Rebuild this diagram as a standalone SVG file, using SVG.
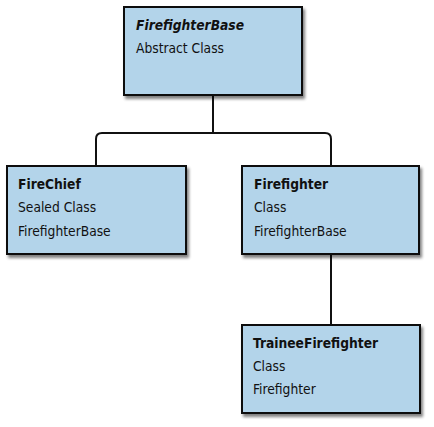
<svg xmlns="http://www.w3.org/2000/svg" width="434" height="427" viewBox="0 0 434 427">
<style>
.box{fill:#b3d4ea;stroke:#111;stroke-width:2;filter:url(#sh)}
.t{font-family:"DejaVu Sans Condensed","Liberation Sans",Arial,sans-serif;font-size:13.7px;fill:#111}
.b{font-weight:bold}
.bi{font-weight:bold;font-style:italic}
.c{fill:none;stroke:#111;stroke-width:2}
</style>
<defs>
<filter id="sh" x="-10%" y="-10%" width="130%" height="140%">
<feGaussianBlur in="SourceAlpha" stdDeviation="1.5"/>
<feOffset dx="2" dy="3" result="o"/>
<feComponentTransfer><feFuncA type="linear" slope="0.5"/></feComponentTransfer>
<feMerge><feMergeNode/><feMergeNode in="SourceGraphic"/></feMerge>
</filter>
</defs>
<g id="connectors">
<path class="c" d="M213 95 V133 M96 166 V139 Q96 133 102 133 H325 Q331 133 331 139 V166"/>
<path class="c" d="M331 254 V325"/>
</g>
<g id="FirefighterBase">
<rect class="box" x="124" y="7" width="178" height="88"/>
<text class="t bi" x="136" y="30">FirefighterBase</text>
<text class="t" x="136" y="53">Abstract Class</text>
</g>
<g id="FireChief">
<rect class="box" x="7" y="166" width="179" height="88"/>
<text class="t b" x="18" y="189">FireChief</text>
<text class="t" x="18" y="212">Sealed Class</text>
<text class="t" x="18" y="236">FirefighterBase</text>
</g>
<g id="Firefighter">
<rect class="box" x="242" y="166" width="177" height="88"/>
<text class="t b" x="254" y="189">Firefighter</text>
<text class="t" x="254" y="212">Class</text>
<text class="t" x="254" y="236">FirefighterBase</text>
</g>
<g id="TraineeFirefighter">
<rect class="box" x="242" y="325" width="178" height="88"/>
<text class="t b" x="253" y="348">TraineeFirefighter</text>
<text class="t" x="253" y="371">Class</text>
<text class="t" x="253" y="394">Firefighter</text>
</g>
</svg>
